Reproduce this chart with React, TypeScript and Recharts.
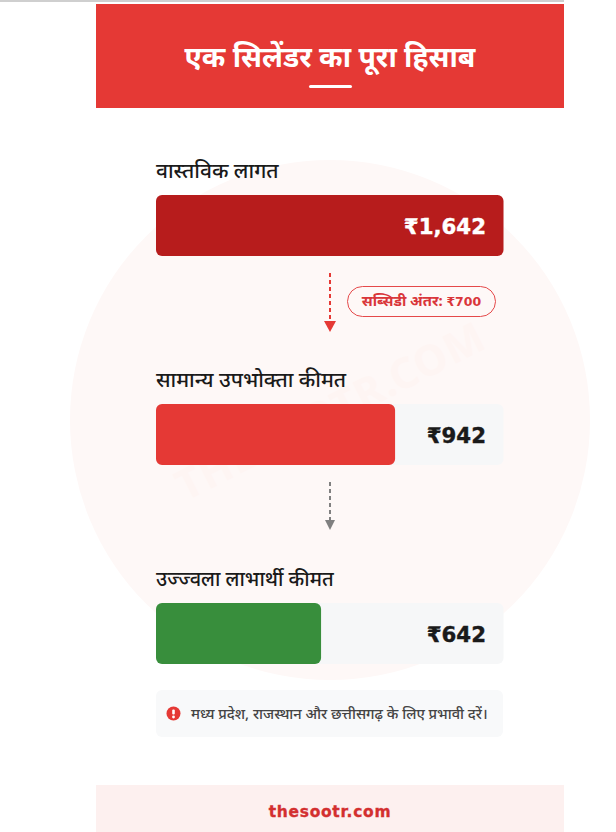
import React from "react";
import { BarChart, Bar, XAxis, YAxis, Cell, LabelList } from "recharts";

const categories = ["वास्तविक लागत", "सामान्य उपभोक्ता कीमत", "उज्ज्वला लाभार्थी कीमत"];
const priceLabels = ["₹1,642", "₹942", "₹642"];
// Drawn bar lengths, in percent of the track
const barLengths = [100, 68.8, 47.5];
const barColors = ["#b71c1c", "#e53935", "#388e3c"];
const rowTops = [195, 403.5, 603];
const labelTops = [157, 366, 566];
const labelSizes = [21, 21, 20];
const rows = categories.map((name, i) => ({ name, length: barLengths[i], price: priceLabels[i] }));

const font = "'Noto Sans', 'Liberation Sans', Arial, sans-serif";
const valueFont = "'DejaVu Sans', 'Liberation Sans', sans-serif";

const box = (s: React.CSSProperties): React.CSSProperties => ({ position: "absolute", ...s });

function PriceLabel(props: any) {
  const { y, height, value, fill } = props;
  return (
    <text x={330} y={y + height / 2 + 8} textAnchor="end" fontFamily={valueFont} fontWeight={700} fontSize={21.3}
      stroke={fill} strokeWidth={0.4} fill={fill}>{value}</text>
  );
}

function Arrow({ top, height, color, head, width }: { top: number; height: number; color: string; head: number; width: number }) {
  return (
    <svg style={box({ left: 320, top, width: 20 })} width={20} height={height + head + 2}>
      <line x1={10} y1={0} x2={10} y2={height} stroke={color} strokeWidth={2} strokeDasharray="4 3" />
      <polygon points={`${10 - width / 2},${height} ${10 + width / 2},${height} 10,${height + head}`} fill={color} />
    </svg>
  );
}

function Row({ index }: { index: number }) {
  const row = rows[index];
  return (
    <div style={box({ left: 156, top: rowTops[index] - 10 })}>
      <BarChart width={347.5} height={81} layout="vertical" data={[row]} barCategoryGap={0} margin={{ top: 0, right: 0, bottom: 0, left: 0 }}>
        <XAxis type="number" domain={[0, 100]} hide />
        <YAxis type="category" dataKey="name" hide />
        <Bar dataKey="length" barSize={61} isAnimationActive={false} radius={6}
          background={{ fill: "#f6f7f8", radius: 6 } as any}>
          <Cell fill={barColors[index]} />
          <LabelList dataKey="price" content={(p: any) => <PriceLabel {...p} fill={index === 0 ? "#ffffff" : "#1a1a1a"} />} />
        </Bar>
      </BarChart>
    </div>
  );
}

export default function App() {
  return (
    <div style={box({ left: 0, top: 0, width: 616, height: 832, background: "#fff", overflow: "hidden", fontFamily: font })}>
      <div style={box({ left: 0, top: 0, width: 564, height: 2, background: "#cfcfcf" })} />
      <div style={box({ left: 70, top: 160, width: 520, height: 520, borderRadius: "50%", background: "#fef8f7" })} />
      <div style={box({ left: 330 - 250, top: 385, width: 500, textAlign: "center", fontSize: 42, fontWeight: 700, lineHeight: "50px", color: "#fef5f3", transform: "rotate(-27deg)", letterSpacing: 1 })}>THESOOTR.COM</div>

      <div style={box({ left: 96, top: 4, width: 468, height: 104, background: "#e53935" })} />
      <div style={box({ left: 96, top: 36, width: 468, textAlign: "center", color: "#fff", fontSize: 28.4, fontWeight: 700, lineHeight: "40px" })}>एक सिलेंडर का पूरा हिसाब</div>
      <div style={box({ left: 309, top: 85, width: 43, height: 3, borderRadius: 2, background: "#fff" })} />

      {categories.map((c, i) => (
        <div key={c} style={box({ left: 156, top: labelTops[i], fontSize: labelSizes[i], fontWeight: 500, color: "#1a1a1a", lineHeight: "26px", whiteSpace: "nowrap" })}>{c}</div>
      ))}

      {categories.map((c, i) => <Row key={c} index={i} />)}

      <Arrow top={273} height={48} color="#e53935" head={11} width={12} />
      <div style={box({ left: 347, top: 286, width: 149, height: 31, boxSizing: "border-box", border: "1.5px solid #e5494a", borderRadius: 16, textAlign: "center", color: "#d9363a", fontSize: 14.8, fontWeight: 700, lineHeight: "27px", whiteSpace: "nowrap" })}>सब्सिडी अंतर: <span style={{ fontFamily: valueFont, fontSize: 12.5 }}>₹700</span></div>
      <Arrow top={482} height={38} color="#808080" head={10} width={10} />

      <div style={box({ left: 156, top: 690, width: 347, height: 47, background: "#f8f9fa", borderRadius: 6 })} />
      <svg style={box({ left: 166, top: 706 })} width={15} height={15}>
        <circle cx={7.5} cy={7.5} r={7} fill="#e53935" />
        <rect x={6.2} y={3.5} width={2.6} height={5} rx={1} fill="#fff" />
        <circle cx={7.5} cy={11} r={1.4} fill="#fff" />
      </svg>
      <div style={box({ left: 191, top: 703, fontSize: 14.7, fontWeight: 500, color: "#444", lineHeight: "20px", whiteSpace: "nowrap" })}>मध्य प्रदेश, राजस्थान और छत्तीसगढ़ के लिए प्रभावी दरें।</div>

      <div style={box({ left: 96, top: 785, width: 468, height: 47, background: "#fdf0ef" })} />
      <div style={box({ left: 96, top: 802, width: 468, textAlign: "center", color: "#d32f2f", fontFamily: valueFont, fontWeight: 700, fontSize: 15.5, letterSpacing: 0.7, lineHeight: "20px", WebkitTextStroke: "0.3px #d32f2f" })}>thesootr.com</div>
    </div>
  );
}
